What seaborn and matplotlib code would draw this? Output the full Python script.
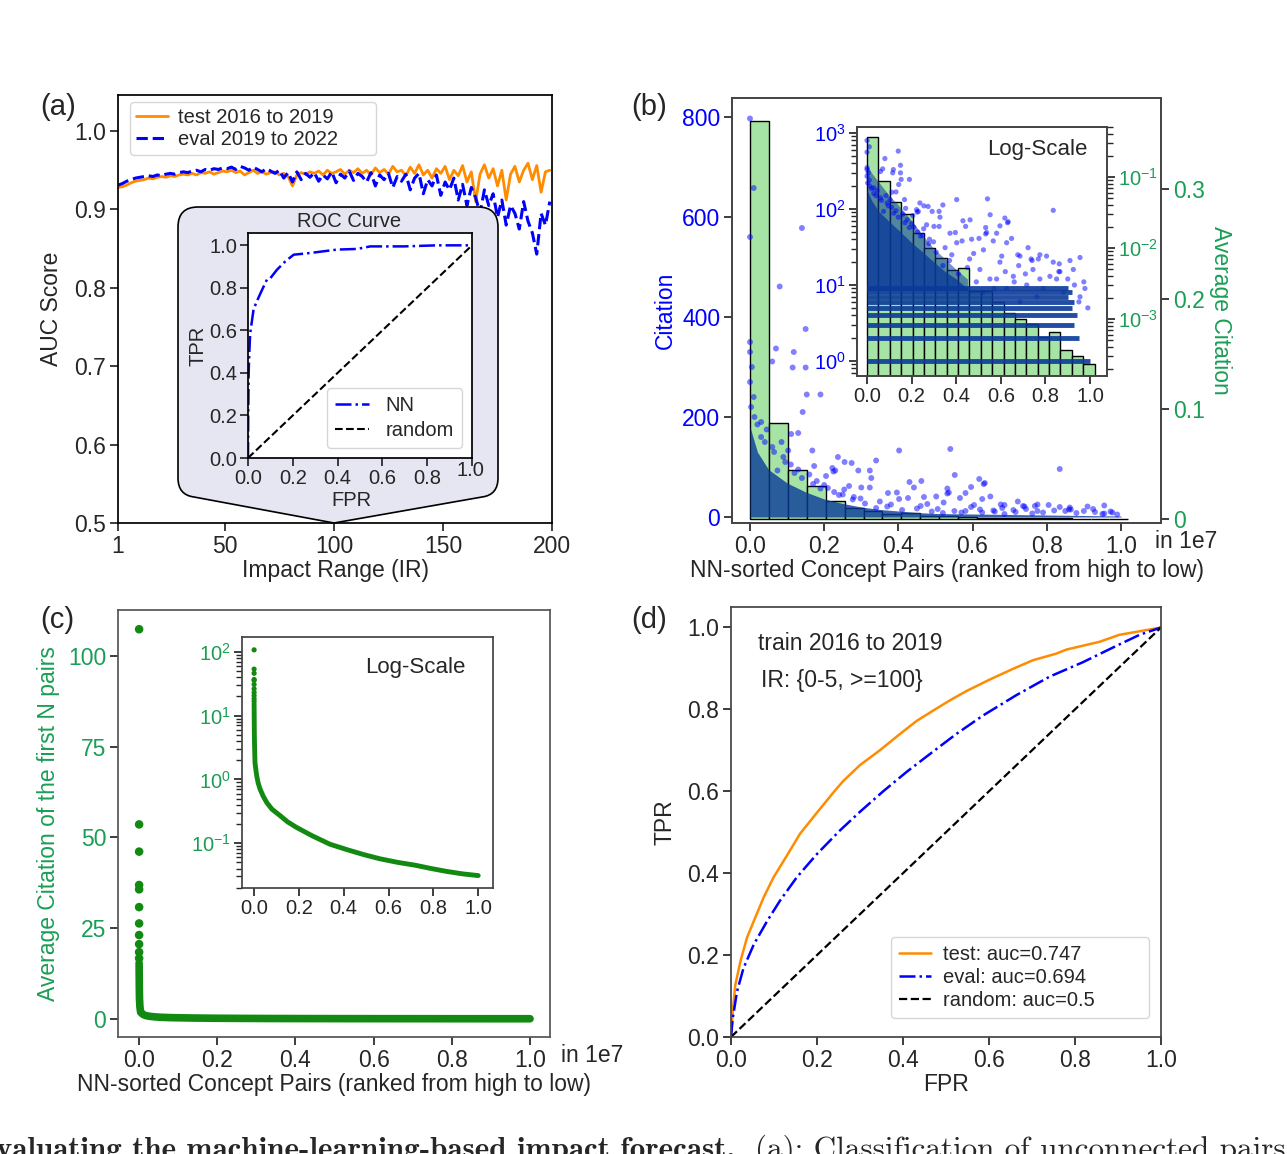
import numpy as np
import pandas as pd
import matplotlib
matplotlib.use("Agg")
import matplotlib.pyplot as plt
import matplotlib.transforms as mtransforms
import seaborn as sns
from matplotlib.path import Path
from matplotlib.patches import PathPatch

sns.set_theme(style="ticks")
plt.rcParams["font.family"] = ["Liberation Sans", "DejaVu Sans"]
plt.rcParams["axes.edgecolor"] = "#333333"

# ------------------------------------------------------------
# (a) AUC vs impact range
# ------------------------------------------------------------
ir = list(range(1, 200, 2))
auc_test = [0.928, 0.929, 0.931, 0.934, 0.936, 0.937,
            0.938, 0.940, 0.939, 0.941, 0.942, 0.941, 0.943, 0.942, 0.944,
            0.945, 0.944, 0.946, 0.944, 0.947, 0.946, 0.948, 0.945, 0.947, 0.949,
            0.948, 0.950, 0.947, 0.949, 0.944, 0.947, 0.950, 0.946, 0.948, 0.945,
            0.947, 0.948, 0.944, 0.946, 0.942, 0.930, 0.944, 0.947, 0.945, 0.948,
            0.946, 0.949, 0.944, 0.950, 0.946, 0.948, 0.951, 0.945, 0.950, 0.947,
            0.952, 0.946, 0.950, 0.944, 0.953, 0.947, 0.951, 0.945, 0.955, 0.948,
            0.950, 0.943, 0.954, 0.946, 0.957, 0.944, 0.950, 0.940, 0.952, 0.946,
            0.955, 0.938, 0.950, 0.943, 0.956, 0.935, 0.948, 0.910, 0.945, 0.957,
            0.940, 0.952, 0.930, 0.950, 0.912, 0.945, 0.955, 0.935, 0.950, 0.959,
            0.938, 0.956, 0.922, 0.948, 0.950]
auc_eval = [0.931, 0.933, 0.936, 0.938, 0.940, 0.941,
            0.942, 0.943, 0.942, 0.944, 0.943, 0.945, 0.946, 0.945, 0.947,
            0.948, 0.947, 0.949, 0.950, 0.948, 0.951, 0.950, 0.952, 0.951, 0.953,
            0.952, 0.954, 0.951, 0.955, 0.953, 0.950, 0.954, 0.951, 0.948, 0.952,
            0.949, 0.946, 0.950, 0.940, 0.947, 0.935, 0.948, 0.938, 0.946, 0.941,
            0.947, 0.936, 0.944, 0.939, 0.948, 0.934, 0.945, 0.940, 0.949, 0.937,
            0.946, 0.942, 0.935, 0.947, 0.930, 0.944, 0.938, 0.946, 0.928, 0.942,
            0.936, 0.945, 0.925, 0.940, 0.946, 0.920, 0.938, 0.930, 0.944, 0.918,
            0.935, 0.925, 0.940, 0.912, 0.932, 0.905, 0.928, 0.915, 0.895, 0.925,
            0.905, 0.920, 0.890, 0.912, 0.880, 0.905, 0.895, 0.875, 0.910, 0.885,
            0.870, 0.843, 0.895, 0.880, 0.910]

nn_fpr = [0, 0.001, 0.003, 0.006, 0.01, 0.025, 0.043, 0.0625, 0.085, 0.1,
          0.13, 0.167, 0.204, 0.278, 0.397, 0.487, 0.546, 0.695, 0.844, 1.0]
nn_tpr = [0, 0.2, 0.40, 0.5, 0.588, 0.70, 0.745, 0.79, 0.84, 0.846,
          0.886, 0.925, 0.956, 0.964, 0.98, 0.983, 0.995, 0.995, 1.0, 1.0]
rand_fpr = [0, 1]
rand_tpr = [0, 1]

# ------------------------------------------------------------
# (b) citations of NN-sorted pairs
# ------------------------------------------------------------
bar_avg = [0.362, 0.0869, 0.0445, 0.0304, 0.0164, 0.0101, 0.00716, 0.0049, 0.00518, 0.00245,
           0.00245, 0.00173, 0.00123, 0.001, 0.00085, 0.00055, 0.00066, 0.000366, 0.000304, 0.000234]
bin_w = 0.051
bin_left = [round(i * bin_w, 3) for i in range(len(bar_avg))]

out_x = [0.0, 0.01, 0.0, 0.14, 0.08, 0.15, 0.07, 0.06, 0.115, 0.15,
         0.153, 0.19, 0.142, 0.54, 0.835, 0.552, 0.13, 0.168, 0.074, 0.255,
         0.292, 0.34, 0.323, 0.23, 0.633, 0.536, 0.862, 0.736, 0.676, 0.768,
         0.93, 0.977, 0.46, 0.38, 0.426, 0.277, 0.323, 0.173, 0.111, 0.43,
         0.63, 0.205, 0.225, 0.396, 0.502, 0.532, 0.86, 0.972, 0.74, 0.604,
         0.478, 0.35, 0.298, 0.254, 0.227, 0.3, 0.596, 0.327, 0.442, 0.532,
         0.618, 0.648, 0.722, 0.775, 0.85, 0.91, 0.955, 0.955, 0.865, 0.596,
         0.656, 0.716, 0.775, 0.581, 0.522, 0.506, 0.402, 0.274, 0.222, 0.267,
         0.372, 0.469, 0.566, 0.686, 0.761, 0.686, 0.805, 0.551, 0.118, 0.103,
         0.237, 0.402, 0.462, 0.581, 0.626, 0.835, 0.925, 0.744, 0.626,
         0.34, 0.41, 0.49, 0.57, 0.66, 0.71, 0.79, 0.82, 0.88, 0.9,
         0.95, 0.99, 0.45, 0.52, 0.62, 0.68, 0.37, 0.31,
         0.0, 0.0, 0.005, 0.0, 0.01, 0.003, 0.012, 0.02, 0.03, 0.04,
         0.06, 0.09, 0.11, 0.085, 0.13, 0.16, 0.18, 0.2, 0.21, 0.25,
         0.03, 0.045, 0.065, 0.095, 0.12, 0.14, 0.17, 0.19, 0.24, 0.28]
out_c = [797, 658, 560, 578, 461, 376, 337, 311, 299, 299,
         245, 245, 210, 136, 96, 84, 168, 133, 93, 110,
         93, 113, 93, 93, 68, 49, 19, 22, 25, 22,
         10, 9, 22, 25, 38, 35, 59, 102, 166, 70,
         66, 82, 91, 49, 41, 47, 15, 11, 21, 24,
         26, 31, 37, 55, 50, 59, 60, 78, 59, 57,
         76, 41, 31, 25, 12, 21, 23, 7, 15, 20,
         13, 10, 12, 12, 29, 16, 36, 108, 98, 62,
         48, 40, 38, 24, 7, 6, 24, 12, 330, 133,
         120, 133, 72, 48, 36, 20, 16, 16, 9,
         18, 14, 11, 9, 11, 14, 9, 13, 8, 12,
         6, 5, 17, 8, 15, 18, 21, 27,
         350, 330, 300, 270, 240, 220, 200, 185, 160, 150,
         140, 120, 105, 150, 95, 85, 72, 64, 58, 45,
         190, 175, 130, 110, 88, 78, 66, 57, 44, 40]

# upper envelope of the dense point cloud
cloud_x = [0.0, 0.02, 0.05, 0.1, 0.15, 0.2, 0.25, 0.3, 0.35, 0.4, 0.45, 0.5, 0.6, 0.7, 0.8, 0.9, 1.0]
core_c = [180, 130, 95, 68, 50, 36, 27, 20, 15, 12, 9, 7, 6, 5, 4, 3, 2]
halo_c = [380, 300, 230, 150, 105, 70, 45, 30, 22, 16, 12, 9, 8, 7, 6, 5, 3]

# integer citation levels that form horizontal bands in the log view
band_level = [1, 2, 3, 4, 5, 6, 7, 8, 9]
band_end = [1.0, 0.95, 0.93, 0.94, 0.92, 0.93, 0.90, 0.92, 0.90]

# ------------------------------------------------------------
# (c) average citation of the first N pairs
# ------------------------------------------------------------
top_x = [0.0, 0.0, 0.0, 0.0, 0.0, 0.0, 0.0, 0.0, 0.0, 0.0, 0.0]
top_c = [107.4, 53.6, 46.1, 36.9, 35.7, 30.8, 26.3, 23.1, 20.6, 18.4, 16.7]
curve_x = [0.0, 0.0005, 0.001, 0.002, 0.003, 0.004, 0.008, 0.012, 0.018, 0.027,
           0.04, 0.057, 0.08, 0.116, 0.15, 0.19, 0.26, 0.339, 0.42, 0.49,
           0.56, 0.64, 0.72, 0.79, 0.86, 0.93, 1.0]
curve_c = [15.4, 9.0, 5.5, 3.4, 2.5, 1.82, 1.4, 1.12, 0.88, 0.70,
           0.55, 0.43, 0.34, 0.27, 0.215, 0.176, 0.13, 0.096, 0.078, 0.066,
           0.057, 0.05, 0.045, 0.04, 0.036, 0.033, 0.031]

# ------------------------------------------------------------
# (d) ROC curves
# ------------------------------------------------------------
test_fpr = [0, 0.004, 0.01, 0.022, 0.037, 0.053, 0.076, 0.099, 0.13, 0.161,
            0.2, 0.238, 0.261, 0.30, 0.346, 0.393, 0.432, 0.47, 0.509, 0.548,
            0.602, 0.656, 0.702, 0.756, 0.78, 0.857, 0.903, 0.957, 1.0]
test_tpr = [0, 0.062, 0.127, 0.185, 0.242, 0.283, 0.341, 0.39, 0.443, 0.497,
            0.548, 0.597, 0.625, 0.664, 0.700, 0.740, 0.772, 0.797, 0.822, 0.845,
            0.873, 0.899, 0.920, 0.936, 0.946, 0.965, 0.982, 0.992, 1.0]
eval_fpr = [0, 0.004, 0.014, 0.029, 0.053, 0.084, 0.114, 0.153, 0.2, 0.254, 0.30,
            0.354, 0.408, 0.47, 0.524, 0.586, 0.664, 0.741, 0.818, 0.896, 0.95, 1.0]
eval_tpr = [0, 0.045, 0.111, 0.168, 0.226, 0.283, 0.333, 0.39, 0.447, 0.505, 0.550,
            0.600, 0.647, 0.697, 0.740, 0.785, 0.835, 0.880, 0.915, 0.955, 0.982, 1.0]

# ------------------------------------------------------------
# style
# ------------------------------------------------------------
W, H = 1287, 1154
ORANGE = "darkorange"
BLUE = "blue"
GREEN = "#1a9e55"
DOT_GREEN = "#128a12"
BAR_GREEN = "#a6e4a6"
DENSE = "#0a3a99"
FS = 16.5
FS_IN = 14.5


def box(l, t, r, b):
    return [l / W, 1 - b / H, (r - l) / W, (b - t) / H]


def fxy(x, y):
    return (x / W, 1 - y / H)


fig = plt.figure(figsize=(W / 100, H / 100), dpi=100)

# ---------------- (a) ----------------
ax_a = fig.add_axes(box(118, 95, 552, 523))
sns.lineplot(x=ir, y=auc_test, ax=ax_a, color=ORANGE, lw=2, label="test 2016 to 2019")
sns.lineplot(x=ir, y=auc_eval, ax=ax_a, color=BLUE, lw=2.2, linestyle="--", label="eval 2019 to 2022")
ax_a.set_xlim(1, 200)
ax_a.set_ylim(0.5, 1.046)
ax_a.set_xticks([1, 50, 100, 150, 200])
ax_a.set_yticks([0.5, 0.6, 0.7, 0.8, 0.9, 1.0])
ax_a.tick_params(labelsize=FS, pad=2.5)
ax_a.set_xlabel("Impact Range (IR)", fontsize=FS, labelpad=1)
ax_a.set_ylabel("AUC Score", fontsize=FS, labelpad=8)
ax_a.legend(loc="upper left", bbox_to_anchor=(0.0276, 0.8645, 0.567, 0.119), mode="expand",
            borderaxespad=0, fontsize=FS_IN, handlelength=1.6, labelspacing=0.15,
            borderpad=0.3, handletextpad=0.5)
for s in ax_a.spines.values():
    s.set_color("black")

# call-out box behind the ROC inset
L, T, R, B = 178, 207, 498, 478
rr = 20
verts = [fxy(L + rr, T), fxy(R - rr, T), fxy(R, T), fxy(R, T + rr), fxy(R, B),
         fxy(R, B + 17), fxy(R - 16, B + 19), fxy(334, 523), fxy(L + 16, B + 19),
         fxy(L, B + 17), fxy(L, B), fxy(L, T + rr), fxy(L, T), fxy(L + rr, T), fxy(L + rr, T)]
codes = [Path.MOVETO, Path.LINETO, Path.CURVE3, Path.CURVE3, Path.LINETO,
         Path.CURVE3, Path.CURVE3, Path.LINETO, Path.LINETO, Path.CURVE3,
         Path.CURVE3, Path.LINETO, Path.CURVE3, Path.CURVE3, Path.CLOSEPOLY]
callout = PathPatch(Path(verts, codes), facecolor="#e6e6f2", edgecolor="black",
                    lw=1.2, transform=fig.transFigure, zorder=1)
fig.add_artist(callout)

ax_ai = fig.add_axes(box(248, 233, 472, 458))
ax_ai.set_zorder(3)
sns.lineplot(x=nn_fpr, y=nn_tpr, ax=ax_ai, color=BLUE, lw=1.8, linestyle="-.",
             label="NN", sort=False, estimator=None)
sns.lineplot(x=rand_fpr, y=rand_tpr, ax=ax_ai, color="black", lw=1.5, linestyle="--",
             label="random", sort=False, estimator=None)
ax_ai.set_xlim(0, 1.0)
ax_ai.set_ylim(0, 1.058)
ax_ai.set_xticks([0, 0.2, 0.4, 0.6, 0.8, 1.0])
ax_ai.set_yticks([0, 0.2, 0.4, 0.6, 0.8, 1.0])
ax_ai.tick_params(labelsize=FS_IN, pad=2)
ax_ai.set_title("ROC Curve", fontsize=FS_IN, pad=4, x=0.453)
ax_ai.set_xlabel("FPR", fontsize=FS_IN, labelpad=0)
ax_ai.xaxis.set_label_coords(0.46, -0.145)
ax_ai.set_ylabel("TPR", fontsize=FS_IN, labelpad=1)
ax_ai.legend(loc="lower right", fontsize=FS_IN, handlelength=1.7, labelspacing=0.3)
for s in ax_ai.spines.values():
    s.set_color("black")
last_lbl = ax_ai.get_xticklabels()[-1]
last_lbl.set_transform(last_lbl.get_transform()
                       + mtransforms.ScaledTranslation(-0.02, 0.08, fig.dpi_scale_trans))

# ---------------- (b) ----------------
ax_b = fig.add_axes(box(732, 98, 1161, 523))
ax_b2 = ax_b.twinx()
ax_b2.bar(bin_left, bar_avg, width=bin_w, align="edge", color=BAR_GREEN,
          edgecolor="black", lw=1)
ax_b.fill_between(cloud_x, 0, core_c, color=DENSE, alpha=0.8, lw=0)
sns.scatterplot(x=out_x, y=out_c, ax=ax_b, color=BLUE, alpha=0.5, s=18,
                edgecolor="none", legend=False)
ax_b.set_zorder(ax_b2.get_zorder() + 1)
ax_b.patch.set_visible(False)
ax_b.set_xlim(-0.0485, 1.108)
ax_b.set_ylim(-12, 838)
ax_b2.set_ylim(-0.0036, 0.3827)
ax_b.set_xticks([0, 0.2, 0.4, 0.6, 0.8, 1.0])
ax_b.set_yticks([0, 200, 400, 600, 800])
ax_b2.set_yticks([0, 0.1, 0.2, 0.3])
ax_b2.set_yticklabels(["0", "0.1", "0.2", "0.3"])
ax_b.tick_params(labelsize=FS, pad=2.5)
ax_b.tick_params(axis="y", labelcolor=BLUE)
ax_b2.tick_params(labelsize=FS, labelcolor=GREEN, pad=2.5)
ax_b.set_xlabel("NN-sorted Concept Pairs (ranked from high to low)", fontsize=FS, labelpad=1)
ax_b.set_ylabel("Citation", fontsize=FS, color=BLUE)
ax_b2.set_ylabel("Average Citation", fontsize=FS, color=GREEN, rotation=270, labelpad=20)
for a in (ax_b, ax_b2):
    for s in a.spines.values():
        s.set_color("#444444")

ax_bi = fig.add_axes(box(857, 127, 1107, 376))
ax_bi2 = ax_bi.twinx()
ax_bi2.set_zorder(4)
ax_bi.set_zorder(5)
ax_bi2.patch.set_visible(True)
ax_bi2.patch.set_facecolor("white")
ax_bi.patch.set_visible(False)
ax_bi2.set_yscale("log")
ax_bi.set_yscale("log")
ax_bi2.bar(bin_left, bar_avg, width=bin_w, align="edge", color=BAR_GREEN,
           edgecolor="black", lw=1)
in_x = [x for x in cloud_x if x <= 0.45]
ax_bi.fill_between(in_x, 8.5, halo_c[:len(in_x)], color=DENSE, alpha=0.55, lw=0)
ax_bi.fill_between(in_x, 8.5, core_c[:len(in_x)], color=DENSE, alpha=0.8, lw=0)
ax_bi.hlines(band_level, 0, band_end, color=DENSE, lw=3.5, alpha=0.9)
sns.scatterplot(x=out_x, y=out_c, ax=ax_bi, color=BLUE, alpha=0.5, s=14,
                edgecolor="none", legend=False)
ax_bi.set_xlim(-0.045, 1.076)
ax_bi.set_ylim(0.635, 1199)
ax_bi2.set_ylim(1.57e-4, 0.506)
ax_bi.set_xticks([0, 0.2, 0.4, 0.6, 0.8, 1.0])
ax_bi.tick_params(labelsize=FS_IN, pad=2)
ax_bi.tick_params(axis="y", labelcolor=BLUE)
ax_bi2.tick_params(labelsize=FS_IN, labelcolor=GREEN, pad=2)
ax_bi.text(0.72, 0.91, "Log-Scale", transform=ax_bi.transAxes, fontsize=FS - 0.5,
           ha="center", va="center")
for a in (ax_bi, ax_bi2):
    for s in a.spines.values():
        s.set_color("#444444")

# ---------------- (c) ----------------
ax_c = fig.add_axes(box(118, 610, 550, 1037))
sns.lineplot(x=curve_x, y=curve_c, ax=ax_c, color=DOT_GREEN, lw=5.5, sort=False, estimator=None)
sns.scatterplot(x=top_x, y=top_c, ax=ax_c, color=DOT_GREEN, s=38, edgecolor="none", legend=False)
ax_c.set_xlim(-0.054, 1.051)
ax_c.set_ylim(-5, 112.7)
ax_c.set_xticks([0, 0.2, 0.4, 0.6, 0.8, 1.0])
ax_c.set_yticks([0, 25, 50, 75, 100])
ax_c.tick_params(labelsize=FS, pad=2.5)
ax_c.tick_params(axis="y", labelcolor=GREEN)
ax_c.set_xlabel("NN-sorted Concept Pairs (ranked from high to low)", fontsize=FS, labelpad=1)
ax_c.set_ylabel("Average Citation of the first N pairs", fontsize=FS, color=GREEN, labelpad=6)
for s in ax_c.spines.values():
    s.set_color("#555555")

ax_ci = fig.add_axes(box(242, 637, 493, 888))
ax_ci.set_yscale("log")
sns.lineplot(x=curve_x, y=curve_c, ax=ax_ci, color=DOT_GREEN, lw=3.5, sort=False, estimator=None)
sns.scatterplot(x=top_x, y=top_c, ax=ax_ci, color=DOT_GREEN, s=14, edgecolor="none", legend=False)
ax_ci.set_xlim(-0.054, 1.066)
ax_ci.set_ylim(0.0198, 171)
ax_ci.set_xticks([0, 0.2, 0.4, 0.6, 0.8, 1.0])
ax_ci.tick_params(labelsize=FS_IN, pad=2)
ax_ci.tick_params(axis="y", labelcolor=GREEN)
ax_ci.text(0.69, 0.88, "Log-Scale", transform=ax_ci.transAxes, fontsize=FS - 0.5,
           ha="center", va="center")
for s in ax_ci.spines.values():
    s.set_color("#444444")

# ---------------- (d) ----------------
ax_d = fig.add_axes(box(731, 607, 1161, 1037))
sns.lineplot(x=test_fpr, y=test_tpr, ax=ax_d, color=ORANGE, lw=1.8,
             label="test: auc=0.747", sort=False, estimator=None)
sns.lineplot(x=eval_fpr, y=eval_tpr, ax=ax_d, color=BLUE, lw=1.8, linestyle="-.",
             label="eval: auc=0.694", sort=False, estimator=None)
sns.lineplot(x=rand_fpr, y=rand_tpr, ax=ax_d, color="black", lw=1.6, linestyle="--",
             label="random: auc=0.5", sort=False, estimator=None)
ax_d.set_xlim(0, 1.0)
ax_d.set_ylim(0, 1.05)
ax_d.set_xticks([0, 0.2, 0.4, 0.6, 0.8, 1.0])
ax_d.set_yticks([0, 0.2, 0.4, 0.6, 0.8, 1.0])
ax_d.tick_params(labelsize=FS, pad=2.5)
ax_d.set_xlabel("FPR", fontsize=FS, labelpad=1)
ax_d.set_ylabel("TPR", fontsize=FS, labelpad=8)
ax_d.legend(loc="lower left", bbox_to_anchor=(0.372, 0.044, 0.6, 0.2023), mode="expand",
            borderaxespad=0, fontsize=FS_IN, handlelength=1.6, labelspacing=0.2,
            handletextpad=0.6)
for s in ax_d.spines.values():
    s.set_color("#444444")
fig.text(*fxy(758, 643), "train 2016 to 2019", fontsize=FS, va="center")
fig.text(*fxy(761, 680), "IR: {0-5, >=100}", fontsize=FS, va="center")

# ---------------- annotations ----------------
for lab, x, y in [("(a)", 40, 107), ("(b)", 631, 107), ("(c)", 40, 620), ("(d)", 631, 620)]:
    fig.text(*fxy(x, y), lab, fontsize=21, va="center")
fig.text(*fxy(1155, 542), "in 1e7", fontsize=FS, va="center")
fig.text(*fxy(561, 1055), "in 1e7", fontsize=FS, va="center")

fig.text(-4 / W, 1 - 1158 / H, "valuating the machine-learning-based impact forecast.",
         fontfamily="cmb10", fontsize=22.4, va="baseline")
fig.text(755 / W, 1 - 1158 / H, "(a): Classification of unconnected pairs, whe",
         fontfamily="cmr10", fontsize=22.4, va="baseline")

fig.savefig("out.png", dpi=100)
